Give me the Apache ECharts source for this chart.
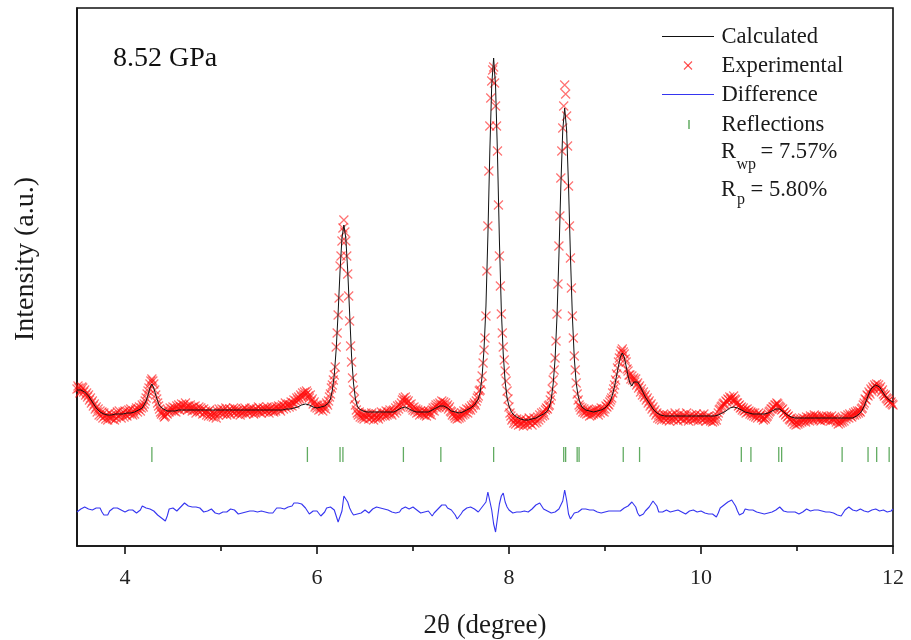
<!DOCTYPE html>
<html>
<head>
<meta charset="utf-8">
<script src="https://cdn.jsdelivr.net/npm/echarts@6/dist/echarts.min.js"></script>
<style>
  html, body { margin: 0; padding: 0; background: #ffffff; }
  #chart { width: 911px; height: 640px; }
</style>
</head>
<body>
<div id="chart"></div>
<script>
// 2-theta grids (degrees): observed points every 0.01, profiles every 0.02
const twoThetaStart = 3.5;
const observedStep = 0.01;
const profileStep = 0.02;

// Observed intensity, one row per 0.1 degree
const observed = [
  157,160,158,153,155,159,158,154,156,151, // 3.5
  153,149,151,146,148,143,145,140,142,137, // 3.6
  139,134,137,131,135,130,134,128,133,130, // 3.7
  127,131,126,129,133,128,131,127,130,126, // 3.8
  132,128,134,130,135,131,128,132,134,129, // 3.9
  135,131,130,134,136,132,137,133,131,135, // 4.0
  132,136,138,134,137,139,135,138,141,139, // 4.1
  142,145,148,152,155,158,162,165,167,165, // 4.2
  162,156,151,147,143,140,137,134,132,134, // 4.3
  131,129,130,133,132,136,134,138,135,137, // 4.4
  139,135,138,134,140,137,141,136,139,142, // 4.5
  138,141,137,143,139,136,140,137,141,138, // 4.6
  135,139,136,140,133,137,135,139,134,138, // 4.7
  136,132,137,133,135,131,134,130,136,132, // 4.8
  130,134,129,133,131,128,135,131,137,133, // 4.9
  134,137,132,136,133,138,131,135,133,137, // 5.0
  132,136,134,138,133,137,135,132,136,134, // 5.1
  131,135,133,137,134,138,132,136,135,133, // 5.2
  137,134,138,135,132,136,133,137,135,139, // 5.3
  134,137,133,136,138,134,137,135,139,136, // 5.4
  133,137,135,139,136,134,138,135,139,137, // 5.5
  140,137,135,139,141,137,140,143,138,141, // 5.6
  142,139,141,144,140,143,146,142,145,148, // 5.7
  146,149,147,151,149,153,150,154,151,155, // 5.8
  153,150,148,151,145,147,142,144,139,141, // 5.9
  138,141,136,139,137,140,135,138,140,137, // 6.0
  143,141,145,149,152,158,161,166,171,179, // 6.1
  199,213,231,248,280,290,305,318,326,314, // 6.2
  305,290,272,250,225,200,184,168,156,147, // 6.3
  141,136,133,131,134,129,132,128,131,127, // 6.4
  130,133,129,132,127,131,128,133,129,126, // 6.5
  131,128,132,129,127,131,129,134,130,132, // 6.6
  133,130,135,131,134,132,136,133,131,135, // 6.7
  136,133,138,135,140,137,141,139,143,146, // 6.8
  148,145,149,146,143,145,141,139,142,138, // 6.9
  136,139,135,137,133,136,134,131,135,133, // 7.0
  132,135,131,134,130,133,135,132,134,131, // 7.1
  136,138,135,139,141,138,142,139,143,141, // 7.2
  145,141,144,140,143,139,141,137,139,135, // 7.3
  134,131,133,130,128,131,127,130,128,131, // 7.4
  129,133,131,135,132,134,137,133,136,138, // 7.5
  136,140,138,141,143,141,145,148,150,155, // 7.6
  156,162,170,183,196,208,230,275,320,375, // 7.7
  420,448,465,476,479,463,440,420,395,341, // 7.8
  290,260,232,213,199,186,175,165,155,147, // 7.9
  139,133,130,126,128,123,126,122,127,124, // 8.0
  121,125,122,127,123,120,125,122,126,121, // 8.1
  124,128,123,126,121,125,128,123,127,124, // 8.2
  129,126,131,128,133,130,134,131,136,138, // 8.3
  137,140,141,146,150,157,166,176,188,205, // 8.4
  232,262,300,330,368,395,418,440,461,452, // 8.5
  430,400,360,320,288,258,230,208,190,176, // 8.6
  163,152,146,141,139,136,138,134,137,133, // 8.7
  135,132,136,133,130,134,131,135,132,136, // 8.8
  133,137,134,131,136,133,138,135,137,134, // 8.9
  137,140,139,142,141,144,146,148,153,157, // 9.0
  161,166,172,178,184,188,192,195,197,194, // 9.1
  192,187,184,177,175,171,171,167,170,166, // 9.2
  168,164,167,161,163,158,160,154,157,151, // 9.3
  154,149,151,146,148,143,145,140,142,137, // 9.4
  139,134,136,131,133,128,131,127,130,126, // 9.5
  129,132,127,130,126,131,128,125,130,127, // 9.6
  131,126,129,133,127,130,125,129,132,127, // 9.7
  128,131,126,130,127,133,128,125,130,127, // 9.8
  131,128,126,130,127,132,128,125,129,131, // 9.9
  127,130,126,132,128,125,129,126,130,127, // 10.0
  125,128,124,127,125,129,126,130,133,136, // 10.1
  137,139,140,142,143,141,145,144,147,146, // 10.2
  149,147,148,145,150,147,146,143,143,140, // 10.3
  141,138,139,136,138,135,136,133,137,134, // 10.4
  135,132,134,131,133,130,133,129,131,128, // 10.5
  133,130,131,128,129,126,128,127,129,130, // 10.6
  132,134,135,137,137,139,139,141,141,143, // 10.7
  142,140,139,138,136,137,133,134,131,132, // 10.8
  129,130,127,126,128,124,126,122,125,121, // 10.9
  124,122,126,123,127,124,128,125,127,124, // 11.0
  129,126,128,125,130,127,129,126,131,128, // 11.1
  130,127,129,126,128,125,130,127,129,126, // 11.2
  127,130,126,129,128,125,130,127,126,129, // 11.3
  127,124,126,122,125,123,126,124,128,125, // 11.4
  130,127,129,131,128,132,130,129,131,133, // 11.5
  131,134,132,135,133,135,134,137,138,141, // 11.6
  143,147,146,151,150,154,152,157,155,159, // 11.7
  157,161,159,162,158,161,157,159,154,156, // 11.8
  152,150,151,148,147,145,146,143,144,142, // 11.9
  141                                      // 12.0
];

// Refined (calculated) profile, one row per 0.2 degree
const calculated = [
  156,156,156,155,154,152,150,147,144,141, // 3.5
  138,136,134,133,132,132,131,131,131,131, // 3.7
  132,132,132,132,132,133,133,133,133,134, // 3.9
  134,135,136,137,138,140,145,151,158,162, // 4.1
  158,151,145,140,138,137,136,135,135,135, // 4.3
  135,135,136,136,136,136,136,136,136,136, // 4.5
  136,136,136,136,136,136,136,136,136,136, // 4.7
  136,136,136,136,136,136,136,136,136,136, // 4.9
  136,136,136,136,136,136,136,136,136,136, // 5.1
  136,136,136,136,136,136,136,136,136,136, // 5.3
  136,136,136,136,136,136,136,136,137,137, // 5.5
  137,137,137,138,138,139,140,141,142,142, // 5.7
  142,141,140,139,138,138,138,139,140,140, // 5.9
  141,143,147,156,171,197,233,275,308,321, // 6.1
  308,275,233,190,163,147,140,137,136,135, // 6.3
  135,134,134,134,134,134,134,134,134,134, // 6.5
  134,134,134,134,134,134,135,136,137,138, // 6.7
  139,139,138,137,136,135,134,134,134,134, // 6.9
  134,134,134,134,135,136,137,138,139,140, // 7.1
  140,140,139,138,136,135,134,134,133,133, // 7.3
  133,134,135,136,137,138,139,141,143,147, // 7.5
  154,170,197,240,310,394,461,488,460,392, // 7.7
  306,236,192,164,148,140,135,132,130,129, // 7.9
  128,127,127,126,126,126,126,127,127,128, // 8.1
  129,130,131,132,133,135,139,147,162,187, // 8.3
  230,290,360,416,438,416,360,290,230,188, // 8.5
  163,150,143,139,137,136,135,135,134,134, // 8.7
  134,135,135,136,137,138,140,142,146,152, // 8.9
  160,170,180,189,193,189,180,170,163,160, // 9.1
  164,166,164,161,157,153,149,146,143,140, // 9.3
  137,135,133,132,131,131,130,130,130,130, // 9.5
  130,130,130,130,130,130,130,130,130,130, // 9.7
  130,130,130,130,130,130,130,130,130,130, // 9.9
  130,130,130,130,131,132,133,134,135,137, // 10.1
  138,139,139,139,138,137,136,135,134,133, // 10.3
  133,132,132,132,132,132,132,132,132,132, // 10.5
  133,134,135,136,137,137,137,136,134,133, // 10.7
  131,130,129,128,128,128,128,128,128,128, // 10.9
  128,128,128,128,128,128,128,128,128,128, // 11.1
  128,128,128,128,128,128,128,128,128,128, // 11.3
  128,128,128,128,128,129,130,131,133,136, // 11.5
  140,145,150,155,158,160,161,161,159,156, // 11.7
  153,150,148,146,145,144                  // 11.9
];

// Observed minus calculated, drawn with a fixed vertical offset (0.02 grid)
const difference = [
  34,36,37,38,39,39,37,36,36,37, // 3.5
  38,39,38,34,31,29,31,35,37,38, // 3.7
  39,38,37,36,35,34,34,36,38,36, // 3.9
  34,33,32,36,40,40,38,37,37,36, // 4.1
  35,33,31,29,28,26,25,30,37,39, // 4.3
  38,36,35,36,39,41,43,42,40,39, // 4.5
  39,40,39,39,38,36,34,33,35,37, // 4.7
  37,35,33,31,32,33,34,35,34,36, // 4.9
  37,38,36,34,32,31,33,34,34,34, // 5.1
  35,34,35,34,34,34,35,34,34,33, // 5.3
  33,32,33,35,38,39,38,37,37,38, // 5.5
  39,38,40,43,44,43,42,42,41,38, // 5.7
  35,32,33,35,36,35,33,30,31,34, // 5.9
  38,39,39,37,36,30,24,23,35,50, // 6.1
  52,44,38,34,31,31,32,31,33,35, // 6.3
  36,35,33,34,37,38,39,39,38,36, // 6.5
  37,38,36,35,34,34,33,33,34,37, // 6.7
  39,39,38,37,38,39,38,36,34,33, // 6.9
  33,34,36,35,33,30,33,35,37,39, // 7.1
  41,42,41,38,37,36,35,31,27,28, // 7.3
  32,35,37,38,39,39,38,37,35,34, // 7.5
  36,39,39,44,54,45,36,22,14,28, // 7.7
  42,50,53,44,39,36,34,33,33,34, // 7.9
  35,34,34,35,34,34,35,37,39,41, // 8.1
  43,43,40,37,36,35,34,33,32,34, // 8.3
  36,37,38,45,56,46,32,27,30,33, // 8.5
  34,34,36,37,38,37,36,36,35,36, // 8.7
  35,34,33,33,33,34,35,35,34,35, // 8.9
  36,35,34,35,37,38,38,40,42,44, // 9.1
  44,39,33,30,29,32,35,37,39,42, // 9.3
  45,46,40,34,32,34,35,36,35,34, // 9.5
  34,35,36,36,35,34,33,32,33,35, // 9.7
  36,36,35,34,34,35,34,33,31,32, // 9.9
  33,32,30,29,33,38,40,41,43,44, // 10.1
  45,46,44,40,35,31,29,33,37,37, // 10.3
  36,35,36,35,34,34,33,33,32,32, // 10.5
  33,34,34,35,36,38,39,37,35,34, // 10.7
  34,34,34,35,34,33,32,33,34,36, // 10.9
  37,36,35,35,36,37,36,37,35,34, // 11.1
  34,35,34,34,33,32,31,29,30,33, // 11.3
  36,38,39,37,36,35,35,36,37,36, // 11.5
  35,35,34,35,36,37,37,36,35,35, // 11.7
  36,35,34,34,35,37              // 11.9
];

// Bragg reflection positions (2-theta, degrees)
const reflections = [4.28, 5.90, 6.24, 6.27, 6.90, 7.29, 7.84, 8.57, 8.59, 8.71, 8.73,
  9.19, 9.36, 10.42, 10.52, 10.81, 10.84, 11.47, 11.74, 11.83, 11.96];
const reflectionLevel = 91.5;

const majorTicks = [4, 6, 8, 10, 12];
const minorTicks = [5, 7, 9, 11];

const serif = '"Liberation Serif", "Times New Roman", serif';
const calcColor = '#111111';
const obsColor = 'rgba(255,10,10,0.72)';
const diffColor = '#3535f0';
const reflColor = '#3a963a';
const textColor = '#1a1a1a';

function onGrid(values, step) {
  return values.map((v, i) => [+(twoThetaStart + i * step).toFixed(2), v]);
}

const crossPath = 'path://M0,0L10,10M10,0L0,10';

// Key in the upper right: sample marks and their labels
const keyRows = [
  { label: 'Calculated', y: 36.5 },
  { label: 'Experimental', y: 65.5 },
  { label: 'Difference', y: 94.5 },
  { label: 'Reflections', y: 124.5 }
];

function keyText(label, y) {
  return { type: 'text', x: 721.5, y: y, style: { text: label, fontFamily: serif, fontSize: 22.6, fill: textColor, verticalAlign: 'middle' } };
}

const keyGraphics = [
  { type: 'line', shape: { x1: 662, y1: 36.5, x2: 714, y2: 36.5 }, style: { stroke: calcColor, lineWidth: 1 } },
  { type: 'line', shape: { x1: 684, y1: 61.5, x2: 692, y2: 69.5 }, style: { stroke: obsColor, lineWidth: 1.1 } },
  { type: 'line', shape: { x1: 692, y1: 61.5, x2: 684, y2: 69.5 }, style: { stroke: obsColor, lineWidth: 1.1 } },
  { type: 'line', shape: { x1: 662, y1: 94.5, x2: 714, y2: 94.5 }, style: { stroke: diffColor, lineWidth: 1.1 } },
  { type: 'line', shape: { x1: 689, y1: 120, x2: 689, y2: 129 }, style: { stroke: reflColor, lineWidth: 1.2 } }
].concat(keyRows.map(r => keyText(r.label, r.y + 0.5)));

const chart = echarts.init(document.getElementById('chart'), null, { renderer: 'canvas' });

chart.setOption({
  animation: false,
  backgroundColor: '#ffffff',
  grid: {
    left: 77, right: 18, top: 8, bottom: 94,
    outerBoundsMode: 'none', containLabel: false,
    show: true, borderColor: '#111', borderWidth: 1.6, backgroundColor: 'transparent'
  },
  xAxis: [
    {
      type: 'value', min: 3.5, max: 12, position: 'bottom',
      name: '2θ (degree)', nameLocation: 'middle', nameGap: 66,
      nameTextStyle: { fontFamily: serif, fontSize: 27, color: textColor },
      axisLine: { show: true, lineStyle: { color: '#111', width: 1.6 } },
      axisTick: { show: true, customValues: majorTicks, length: 8, inside: false, lineStyle: { color: '#111', width: 1.6 } },
      axisLabel: { show: true, customValues: majorTicks, margin: 21, fontFamily: serif, fontSize: 22, color: '#222' },
      splitLine: { show: false }
    },
    {
      type: 'value', min: 3.5, max: 12, position: 'bottom', gridIndex: 0,
      axisLine: { show: false },
      axisTick: { show: true, customValues: minorTicks, length: 5, inside: false, lineStyle: { color: '#111', width: 1.6 } },
      axisLabel: { show: false },
      splitLine: { show: false }
    }
  ],
  yAxis: {
    type: 'value', min: 0, max: 538,
    axisLine: { show: true, lineStyle: { color: '#111', width: 1.6 } },
    axisTick: { show: false },
    axisLabel: { show: false },
    splitLine: { show: false }
  },
  graphic: [
    { type: 'text', x: 26, y: 259, rotation: Math.PI / 2,
      style: { text: 'Intensity (a.u.)', fontFamily: serif, fontSize: 28, fill: textColor, align: 'center', verticalAlign: 'middle' } },
    { type: 'text', x: 113, y: 59, style: { text: '8.52 GPa', fontFamily: serif, fontSize: 28, fill: '#111', verticalAlign: 'middle' } },
    { type: 'text', x: 721, y: 152, style: { text: 'R', fontFamily: serif, fontSize: 22.6, fill: textColor, verticalAlign: 'middle' } },
    { type: 'text', x: 736.5, y: 165, style: { text: 'wp', fontFamily: serif, fontSize: 16, fill: textColor, verticalAlign: 'middle' } },
    { type: 'text', x: 760.5, y: 152, style: { text: '= 7.57%', fontFamily: serif, fontSize: 22.6, fill: textColor, verticalAlign: 'middle' } },
    { type: 'text', x: 721, y: 190, style: { text: 'R', fontFamily: serif, fontSize: 22.6, fill: textColor, verticalAlign: 'middle' } },
    { type: 'text', x: 737, y: 200, style: { text: 'p', fontFamily: serif, fontSize: 16, fill: textColor, verticalAlign: 'middle' } },
    { type: 'text', x: 750.5, y: 190, style: { text: '= 5.80%', fontFamily: serif, fontSize: 22.6, fill: textColor, verticalAlign: 'middle' } }
  ].concat(keyGraphics),
  series: [
    {
      name: 'Calculated', type: 'line', xAxisIndex: 0, z: 4,
      data: onGrid(calculated, profileStep), symbol: 'none', showSymbol: false,
      lineStyle: { color: calcColor, width: 1 }, itemStyle: { color: calcColor }
    },
    {
      name: 'Experimental', type: 'scatter', xAxisIndex: 0, z: 3,
      data: onGrid(observed, observedStep), symbol: crossPath, symbolSize: 9,
      itemStyle: { color: 'rgba(255,0,0,0)', borderColor: obsColor, borderWidth: 1.2 }
    },
    {
      name: 'Difference', type: 'line', xAxisIndex: 0, z: 3,
      data: onGrid(difference, profileStep), symbol: 'none', showSymbol: false,
      lineStyle: { color: diffColor, width: 1.1 }, itemStyle: { color: diffColor }
    },
    {
      name: 'Reflections', type: 'scatter', xAxisIndex: 0, z: 3,
      data: reflections.map(x => [x, reflectionLevel]),
      symbol: 'rect', symbolSize: [1.3, 15],
      itemStyle: { color: reflColor }
    }
  ]
});
</script>
</body>
</html>
